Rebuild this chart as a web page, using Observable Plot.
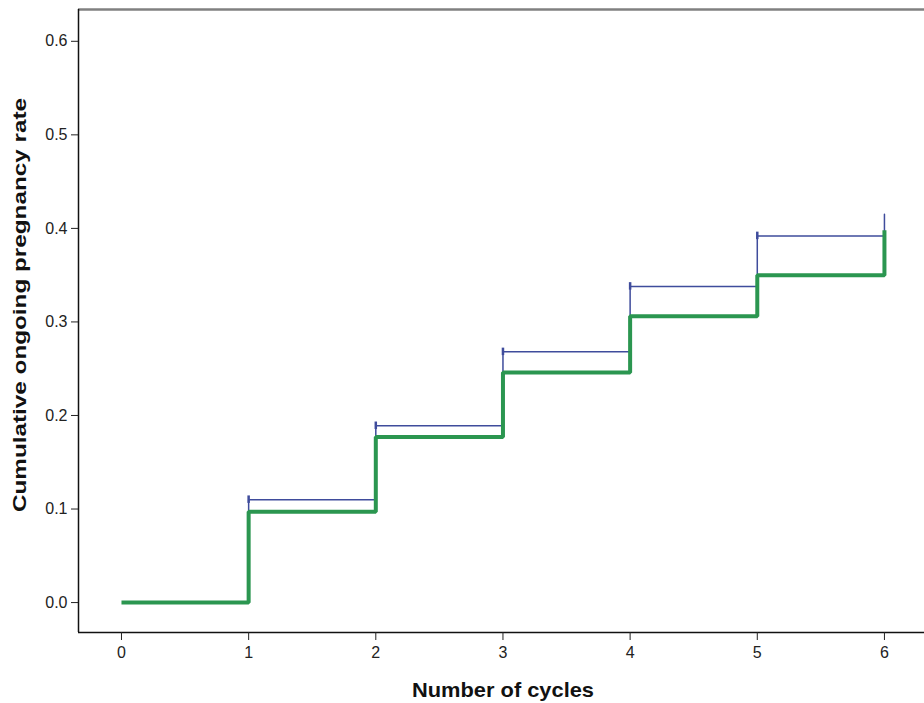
<!DOCTYPE html>
<html><head><meta charset="utf-8">
<script src="https://cdn.jsdelivr.net/npm/d3@7"></script>
<script src="https://cdn.jsdelivr.net/npm/@observablehq/plot@0.6"></script>
<style>body{margin:0;background:#fff}</style>
</head><body><div id="chart"></div>
<script>
// Cumulative ongoing pregnancy rate by number of cycles (step curve)
const cycles = [0, 1, 2, 3, 4, 5, 6];
const rateMain = [0, 0.097, 0.177, 0.246, 0.306, 0.350, 0.398];
const upperCycles = [1, 1, 2, 3, 4, 5, 6];
const rateUpper = [0.097, 0.110, 0.189, 0.268, 0.338, 0.392, 0.415];
const censorCycles = [1, 2, 3, 4, 5];
const censorRates = [0.110, 0.189, 0.268, 0.338, 0.392];
const xTicks = [0, 1, 2, 3, 4, 5, 6];
const yTicks = [0, 0.1, 0.2, 0.3, 0.4, 0.5, 0.6];
const xTitle = "Number of cycles";
const yTitle = "Cumulative ongoing pregnancy rate";

// green step: horizontal segments then final rise at cycle 6
const mainPts = cycles.map((c, i) => ({x: c, y: i < 6 ? rateMain[i] : rateMain[5]}));
mainPts.push({x: 6, y: rateMain[6]});
const upperPts = upperCycles.map((c, i) => ({x: c, y: rateUpper[i]}));
const censor = censorCycles.map((c, i) => ({x: c, y1: censorRates[i] - 0.004, y2: censorRates[i] + 0.004}));

const xDom = [-0.338, 6.315];
const yDom = [-0.032, 0.634];
const font = "'Liberation Sans', Arial, sans-serif";

const chart = Plot.plot({
  width: 924, height: 703,
  marginLeft: 78, marginRight: 0, marginTop: 9, marginBottom: 71,
  x: {domain: xDom},
  y: {domain: yDom},
  style: {fontFamily: font, fontSize: "16px", background: "#fff"},
  marks: [
    Plot.line(upperPts, {x: "x", y: "y", curve: "step-after", stroke: "#3f4c9c", strokeWidth: 1.5}),
    Plot.ruleX(censor, {x: "x", y1: "y1", y2: "y2", stroke: "#3f4c9c", strokeWidth: 2.5}),
    Plot.line(mainPts, {x: "x", y: "y", curve: "step-after", stroke: "#2b9650", strokeWidth: 4, strokeLinejoin: "miter", strokeLinecap: "butt"}),
    Plot.ruleY([yDom[1]], {stroke: "#808080", strokeWidth: 2.5}),
    Plot.ruleX([xDom[0]], {stroke: "#111", strokeWidth: 1.5}),
    Plot.ruleY([yDom[0]], {stroke: "#111", strokeWidth: 1.5}),
    Plot.axisY({ticks: yTicks, tickFormat: d3.format(".1f"), tickSize: 7, tickPadding: 4, label: null, fontSize: 16, color: "#222"}),
    Plot.axisX({ticks: xTicks, tickFormat: d3.format("d"), tickSize: 8, tickPadding: 6, label: null, fontSize: 16, color: "#222"})
  ]
});

const svg = d3.select(chart);
svg.append("text")
  .attr("x", 503).attr("y", 697)
  .attr("text-anchor", "middle")
  .attr("font-family", font).attr("font-weight", "bold").attr("font-size", 21)
  .attr("textLength", 182).attr("lengthAdjust", "spacingAndGlyphs")
  .attr("fill", "#111")
  .text(xTitle);
svg.append("text")
  .attr("transform", "translate(26,305) rotate(-90)")
  .attr("text-anchor", "middle")
  .attr("font-family", font).attr("font-weight", "bold").attr("font-size", 19)
  .attr("textLength", 414).attr("lengthAdjust", "spacingAndGlyphs")
  .attr("fill", "#111")
  .text(yTitle);

document.getElementById("chart").append(chart);
</script>
</body></html>
